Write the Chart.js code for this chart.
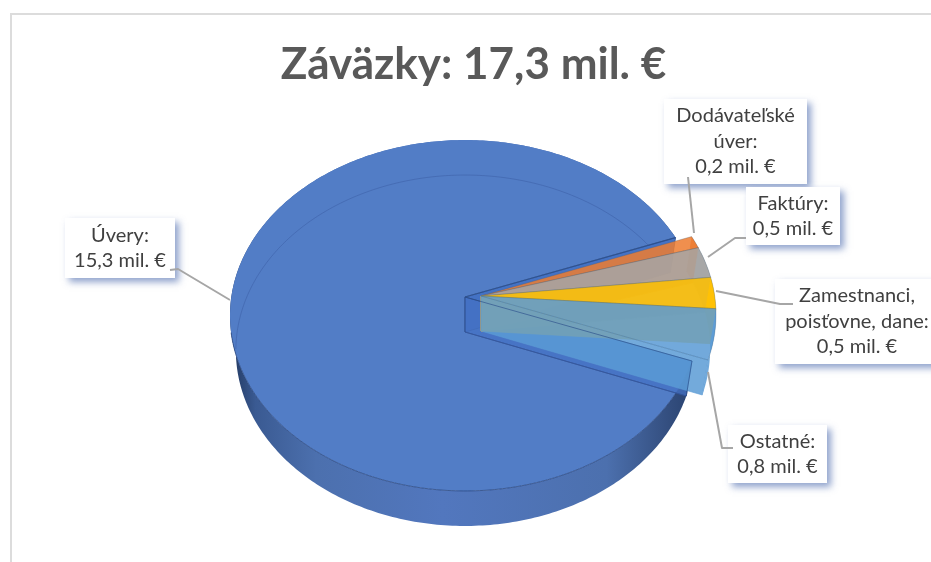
<!DOCTYPE html>
<html><head><meta charset="utf-8">
<style>html,body{margin:0;padding:0;background:#fff}#w{width:931px;height:562px;position:relative}</style>
<script src="https://cdn.jsdelivr.net/npm/chart.js@4"></script>
</head><body><div id="w"><canvas id="c" width="931" height="562"></canvas></div>
<script>
const titleText = 'Záväzky: 17,3 mil. €';
const categories = ['Úvery', 'Dodávateľské úver', 'Faktúry', 'Zamestnanci, poisťovne, dane', 'Ostatné'];
const values = [15.3, 0.2, 0.5, 0.5, 0.8];
const explode = [0, 16, 16, 16, 16];
const colors = ['#527DC6', '#ED7D31', '#A5A5A5', '#FFC000', '#5B9BD5'];
const labelLines = [['Úvery:'], ['Dodávateľské', 'úver:'], ['Faktúry:'], ['Zamestnanci,', 'poisťovne, dane:'], ['Ostatné:']];
const valueLabels = values.map(v => v.toFixed(1).replace('.', ',') + ' mil. €');
const boxes = [[65,218,110,60],[664,99,143,85],[746,187,94,58],[775,279,164,85],[728,425,99,58]];
const leaders = [
  [[170,270],[178,269],[230,300]],
  [[688,177],[694,233]],
  [[746,238],[735,238],[708,257]],
  [[793,304],[780,304],[716,291]],
  [[733,448],[722,448],[708,372]]
];

const CX=465, APEX_Y=297, D=233.7, A=142.2, C=-0.1054, DEPTH=35, SHRINK=0.025;
function pr(a,r,h,dx,dy){
  const u=r*Math.cos(a), v=r*Math.sin(a), w=1+C*v;
  return [CX+dx+D*u/w*(1-SHRINK*h), (A*v+APEX_Y)/w+DEPTH*h+dy];
}
function arcPts(a0,a1,h,dx,dy){
  const out=[], n=Math.max(4,Math.ceil(Math.abs(a1-a0)/0.015));
  for(let i=0;i<=n;i++) out.push(pr(a0+(a1-a0)*i/n,1,h,dx,dy));
  return out;
}
function path(ctx,pts,close=true){
  ctx.beginPath(); pts.forEach((p,i)=>i?ctx.lineTo(p[0],p[1]):ctx.moveTo(p[0],p[1]));
  if(close) ctx.closePath();
}
function poly(ctx,pts,fill,stroke,lw=1){
  path(ctx,pts);
  if(fill){ctx.fillStyle=fill;ctx.fill();}
  if(stroke){ctx.strokeStyle=stroke;ctx.lineWidth=lw;ctx.stroke();}
}
function rgba(hex,al){
  const n=parseInt(hex.slice(1),16);
  return `rgba(${n>>16},${(n>>8)&255},${n&255},${al})`;
}
const pie3d={
  id:'pie3d',
  beforeDraw(chart){
    const ctx=chart.ctx; ctx.save();
    ctx.strokeStyle='#dcdcdc'; ctx.lineWidth=2;
    ctx.beginPath(); ctx.moveTo(11,562); ctx.lineTo(11,14); ctx.lineTo(931,14); ctx.stroke();
    ctx.restore();
  },
  beforeDatasetDraw(chart){
    const ctx=chart.ctx, els=chart.getDatasetMeta(0).data;
    ctx.save();
    const m=els[0], s=m.startAngle, e=m.endAngle, mc=colors[0];
    const g=ctx.createLinearGradient(232,0,700,0);
    g.addColorStop(0,'#233A63'); g.addColorStop(0.05,'#3A5A92'); g.addColorStop(0.18,'#4C70AE');
    g.addColorStop(0.45,'#5277BE'); g.addColorStop(0.8,'#4C70AE'); g.addColorStop(0.93,'#344F80'); g.addColorStop(1,'#263F6B');
    const wallTop=arcPts(s,e,0,0,0), wallBot=arcPts(s,e,1,0,0);
    poly(ctx,wallTop.concat(wallBot.slice().reverse()),g);
    poly(ctx,[[CX,APEX_Y]].concat(wallTop),mc);
    // back rim seen through the top
    path(ctx,wallBot.filter(p=>p[1]<350&&p[0]<650),false);
    ctx.strokeStyle='rgba(60,95,165,.55)'; ctx.lineWidth=1; ctx.stroke();
    // front rim
    path(ctx,wallTop.filter(p=>p[1]>330),false);
    ctx.strokeStyle='rgba(40,70,125,.75)'; ctx.lineWidth=1; ctx.stroke();
    // notch walls
    const apex=pr(0,0,0,0,0), apexB=pr(0,0,1,0,0);
    poly(ctx,[apex,pr(e,1,0,0,0),pr(e,1,1,0,0),apexB],'#4472C4','rgba(50,85,150,.7)');
    poly(ctx,[apex,pr(s,1,0,0,0),pr(s,1,1,0,0),apexB],'rgba(68,114,196,.75)','rgba(40,70,130,.8)');
    path(ctx,[apex,pr(e,1,0,0,0)],false); ctx.strokeStyle='rgba(45,80,140,.9)'; ctx.lineWidth=1.2; ctx.stroke();
    // exploded slices back to front
    for(let i=1;i<els.length;i++){
      const el=els[i], a0=el.startAngle, a1=el.endAngle, dx=el.options.offset, dy=-dx/16, col=colors[i];
      const top=arcPts(a0,a1,0,dx,dy), bot=arcPts(a0,a1,1,dx,dy);
      const ap=pr(0,0,0,dx,dy), apb=pr(0,0,1,dx,dy);
      poly(ctx,top.concat(bot.slice().reverse()),rgba(col,.85));
      poly(ctx,[ap,pr(a1,1,0,dx,dy),pr(a1,1,1,dx,dy),apb],rgba(col,.85),rgba(col,.6));
      poly(ctx,[ap].concat(top),rgba(col,.86),'rgba(60,90,120,.35)',.8);
    }
    // main slice's edges showing through the light-blue slice
    path(ctx,[apex,pr(s,1,0,0,0),pr(s,1,1,0,0)],false);
    ctx.strokeStyle='rgba(45,80,140,.65)'; ctx.lineWidth=1; ctx.stroke();
    path(ctx,[apexB,pr(s,1,1,0,0)],false);
    ctx.strokeStyle='rgba(60,95,170,.55)'; ctx.stroke();
    ctx.restore();
    return false;
  },
  afterDraw(chart){
    const ctx=chart.ctx; ctx.save();
    boxes.forEach(b=>{
      ctx.save();
      ctx.shadowColor='rgba(68,100,170,.6)'; ctx.shadowBlur=7; ctx.shadowOffsetX=4; ctx.shadowOffsetY=4;
      ctx.fillStyle='#fff'; ctx.fillRect(b[0],b[1],b[2],b[3]);
      ctx.restore();
    });
    ctx.strokeStyle='#a6a6a6'; ctx.lineWidth=2; ctx.lineJoin='round';
    leaders.forEach(l=>{path(ctx,l,false);ctx.stroke();});
    ctx.fillStyle='#404040'; ctx.font='20px Lato, "Open Sans", sans-serif';
    ctx.textAlign='center'; ctx.textBaseline='middle';
    boxes.forEach((b,i)=>{
      const lines=labelLines[i].concat(valueLabels[i]), lh=25.5;
      const cy=b[1]+b[3]/2-(lines.length-1)*lh/2;
      lines.forEach((t,j)=>ctx.fillText(t,b[0]+b[2]/2,cy+j*lh));
    });
    ctx.restore();
  }
};
new Chart(document.getElementById('c'),{
  type:'pie',
  data:{labels:categories,datasets:[{data:values,backgroundColor:colors,offset:explode,borderWidth:0}]},
  options:{
    responsive:false,animation:false,rotation:110.8,
    layout:{padding:{left:16,top:0}},
    plugins:{
      legend:{display:false},tooltip:{enabled:false},
      title:{display:true,text:titleText,color:'#595959',font:{family:'Lato, "Open Sans", sans-serif',size:44,weight:'bold'},padding:{top:38,bottom:10}}
    }
  },
  plugins:[pie3d]
});
</script></body></html>
